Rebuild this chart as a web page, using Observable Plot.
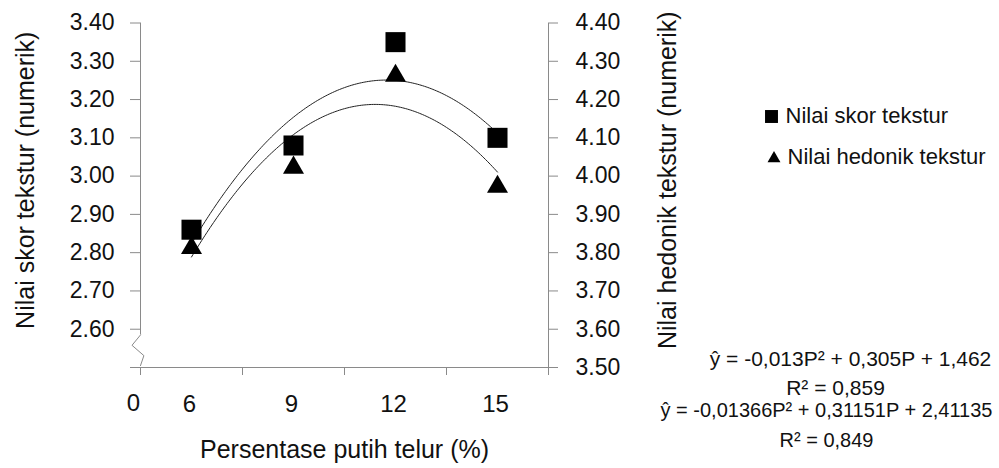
<!DOCTYPE html>
<html>
<head>
<meta charset="utf-8">
<script src="https://cdn.jsdelivr.net/npm/d3@7"></script>
<script src="https://cdn.jsdelivr.net/npm/@observablehq/plot@0.6"></script>
<style>
  html, body { margin: 0; padding: 0; background: #fff; }
  #chart { width: 999px; height: 468px; }
</style>
</head>
<body>
<div id="chart"></div>
<script>
// Egg-white percentage (x categories) and the two texture scores
const categories = [6, 9, 12, 15];
const skorValues = [2.86, 3.08, 3.35, 3.10];      // left axis
const hedonikValues = [3.82, 4.03, 4.27, 3.98];   // right axis

// Quadratic trendline coefficients [a, b, c] for a*P^2 + b*P + c
const skorCoef = [-0.013, 0.305, 1.462];
const hedonikCoef = [-0.01366, 0.31151, 2.41135];

// Axis ticks
const leftTicks = [2.6, 2.7, 2.8, 2.9, 3.0, 3.1, 3.2, 3.3, 3.4];
const rightTicks = [3.5, 3.6, 3.7, 3.8, 3.9, 4.0, 4.1, 4.2, 4.3, 4.4];
const originLabel = "0";

// Texts
const seriesNames = ["Nilai skor tekstur", "Nilai hedonik tekstur"];
const xTitle = "Persentase putih telur (%)";
const leftTitle = "Nilai skor tekstur (numerik)";
const rightTitle = "Nilai hedonik tekstur (numerik)";
const skorEquation = ["ŷ = -0,013P² + 0,305P + 1,462", "R² = 0,859"];
const hedonikEquation = ["ŷ = -0,01366P² + 0,31151P + 2,41135", "R² = 0,849"];

// The right axis reads the same grid shifted by one unit
const rightOffset = rightTicks[0] - 2.5;
const yMin = rightTicks[0] - rightOffset;
const yMax = leftTicks[leftTicks.length - 1];

// Category bands, 3 units wide, centred on each percentage
const half = (categories[1] - categories[0]) / 2;
const bandEdges = [...categories.map(c => c - half), categories[categories.length - 1] + half];
const xMin = bandEdges[0], xMax = bandEdges[bandEdges.length - 1];

const skorData = categories.map((p, i) => ({p, v: skorValues[i]}));
const hedonikData = categories.map((p, i) => ({p, v: hedonikValues[i] - rightOffset}));

function trend(coef, shift) {
  const [a, b, c] = coef;
  const pts = [];
  const p0 = categories[0], p1 = categories[categories.length - 1];
  for (let k = 0; k <= 180; k++) {
    const p = p0 + (p1 - p0) * k / 180;
    pts.push({p, v: a * p * p + b * p + c - shift});
  }
  return pts;
}

// Broken-axis zigzag just above the origin
const breakMark = [
  {p: xMin, v: 2.585}, {p: xMin - 0.25, v: 2.558},
  {p: xMin + 0.1, v: 2.531}, {p: xMin, v: 2.505}
];

const axisGray = "#8a8a8a";
const ink = "#111";
const centred = {textAnchor: "middle", lineAnchor: "middle", fill: ink};

const chart = Plot.plot({
  width: 999,
  height: 468,
  marginLeft: 140,
  marginRight: 451,
  marginTop: 22.5,
  marginBottom: 101,
  style: {fontFamily: "'Liberation Sans', Arial, sans-serif", background: "#fff", overflow: "visible"},
  x: {domain: [xMin, xMax]},
  y: {domain: [yMin, yMax]},
  marks: [
    // axis lines
    Plot.ruleX([xMin], {y1: 2.585, y2: yMax, stroke: axisGray}),
    Plot.line(breakMark, {x: "p", y: "v", stroke: axisGray, strokeWidth: 1}),
    Plot.ruleX([xMax], {y1: yMin, y2: yMax, stroke: axisGray}),
    Plot.ruleY([yMin], {x1: xMin, x2: xMax, stroke: axisGray}),

    // left axis (2.50 is the x-axis level and carries no label)
    Plot.axisY({
      ticks: [yMin, ...leftTicks],
      tickFormat: d => d < leftTicks[0] - 0.05 ? "" : d.toFixed(2),
      tickSize: 10, tickPadding: 16, fontSize: 23,
      stroke: axisGray, fill: ink, label: null
    }),
    // right axis
    Plot.axisY({
      anchor: "right",
      ticks: rightTicks.map(v => v - rightOffset),
      tickFormat: d => (d + rightOffset).toFixed(2),
      tickSize: 9, tickPadding: 18, fontSize: 23,
      stroke: axisGray, fill: ink, label: null
    }),
    // x axis: ticks on band edges, labels at band centres
    Plot.axisX({
      ticks: bandEdges, tickFormat: () => "", tickSize: 8,
      stroke: axisGray, label: null
    }),
    Plot.axisX({
      ticks: categories, tickFormat: d => String(d), tickSize: 0, tickPadding: 27,
      fontSize: 24, fill: ink, dx: -2, label: null
    }),
    Plot.text([originLabel], {x: () => xMin, y: () => yMin, dx: -7, dy: 36, fontSize: 24, fill: ink}),

    // trendlines
    Plot.line(trend(skorCoef, 0), {x: "p", y: "v", stroke: "#222", strokeWidth: 1}),
    Plot.line(trend(hedonikCoef, rightOffset), {x: "p", y: "v", stroke: "#222", strokeWidth: 1}),

    // observations
    Plot.dot(skorData, {x: "p", y: "v", symbol: "square", r: 11.3, fill: "#000", stroke: null}),
    Plot.dot(hedonikData, {x: "p", y: "v", symbol: "triangle", r: 7.8, fill: "#000", stroke: null, dy: 3}),

    // axis titles
    Plot.text([xTitle], {frameAnchor: "bottom", dy: 82, fontSize: 25, ...centred}),
    Plot.text([leftTitle], {frameAnchor: "left", dx: -115, dy: -15, rotate: -90, fontSize: 25, ...centred}),
    Plot.text([rightTitle], {frameAnchor: "right", dx: 119, dy: -15, rotate: -90, fontSize: 25, ...centred}),

    // legend
    Plot.dot([seriesNames[0]], {frameAnchor: "top-right", dx: 223, dy: 93.5, symbol: "square", r: 7.3, fill: "#000", stroke: null}),
    Plot.text([seriesNames[0]], {frameAnchor: "top-right", dx: 237, dy: 92.5, fontSize: 22, ...centred, textAnchor: "start"}),
    Plot.dot([seriesNames[1]], {frameAnchor: "top-right", dx: 225.5, dy: 135.5, symbol: "triangle", r: 4.8, fill: "#000", stroke: null}),
    Plot.text([seriesNames[1]], {frameAnchor: "top-right", dx: 239, dy: 133.5, fontSize: 22, ...centred, textAnchor: "start"}),

    // trendline equations
    Plot.text([skorEquation[0]], {frameAnchor: "top-right", dx: 302, dy: 336.5, fontSize: 21, ...centred}),
    Plot.text([skorEquation[1]], {frameAnchor: "top-right", dx: 287, dy: 365.5, fontSize: 21, ...centred}),
    Plot.text([hedonikEquation[0]], {frameAnchor: "top-right", dx: 278, dy: 387.5, fontSize: 20, ...centred}),
    Plot.text([hedonikEquation[1]], {frameAnchor: "top-right", dx: 278, dy: 418, fontSize: 20, ...centred})
  ]
});

document.getElementById("chart").appendChild(chart);
</script>
</body>
</html>
